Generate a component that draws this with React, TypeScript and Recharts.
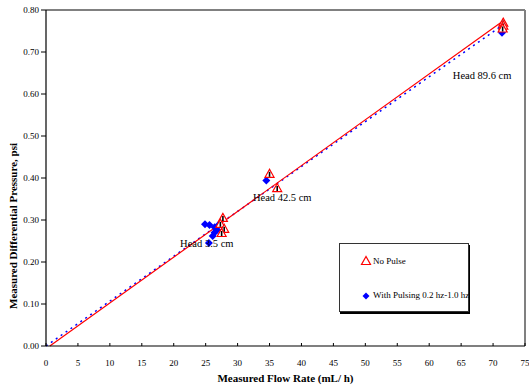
import React from 'react';
import {
  ComposedChart,
  Scatter,
  Line,
  XAxis,
  YAxis,
  ReferenceLine,
  ReferenceDot,
  Legend,
} from 'recharts';

const FONT = '"Liberation Serif", "Times New Roman", serif';

// flow rate (mL/h) vs differential pressure (psi)
const noPulseX = [27.7, 27.3, 27.9, 27.5, 35.0, 36.2, 71.6, 71.6, 71.5];
const noPulseY = [0.305, 0.291, 0.279, 0.269, 0.41, 0.376, 0.77, 0.763, 0.756];

const pulsingX = [24.9, 25.6, 26.4, 27.0, 26.8, 26.4, 26.1, 25.5, 34.5, 71.5, 71.5, 71.4];
const pulsingY = [0.29, 0.288, 0.283, 0.288, 0.277, 0.27, 0.262, 0.245, 0.394, 0.758, 0.75, 0.746];

// linear fits, end points
const noPulseFitX = [0.6, 71.5];
const noPulseFitY = [0, 0.773];
const pulsingFitX = [0, 71.5];
const pulsingFitY = [0, 0.764];

const xTicks = [0, 5, 10, 15, 20, 25, 30, 35, 40, 45, 50, 55, 60, 65, 70, 75];
const yTicks = [0, 0.1, 0.2, 0.3, 0.4, 0.5, 0.6, 0.7, 0.8];

const headLabels = [
  { text: 'Head 89.6 cm', x: 63.7, y: 0.645 },
  { text: 'Head 42.5 cm', x: 32.4, y: 0.355 },
  { text: 'Head 3.5 cm', x: 21.0, y: 0.245 },
];

const zip = (xs: number[], ys: number[]) => xs.map((x, i) => ({ x, y: ys[i] }));

const noPulse = zip(noPulseX, noPulseY);
const pulsing = zip(pulsingX, pulsingY);
const noPulseFit = zip(noPulseFitX, noPulseFitY);
const pulsingFit = zip(pulsingFitX, pulsingFitY);

const Triangle = (props: any) => {
  const { cx, cy } = props;
  if (cx == null || cy == null) return <g />;
  return (
    <g>
      <polygon
        points={`${cx},${cy - 4.5} ${cx - 4.5},${cy + 3.5} ${cx + 4.5},${cy + 3.5}`}
        fill="#fff"
        stroke="#ff0000"
        strokeWidth={1.2}
      />
      <line x1={cx} x2={cx} y1={cy - 2} y2={cy + 3} stroke="#000" strokeWidth={1.6} />
    </g>
  );
};

const Diamond = (props: any) => {
  const { cx, cy } = props;
  if (cx == null || cy == null) return <g />;
  return (
    <polygon
      points={`${cx},${cy - 4} ${cx + 4},${cy} ${cx},${cy + 4} ${cx - 4},${cy}`}
      fill="#0000ff"
    />
  );
};

const LegendBox = () => (
  <div
    style={{
      width: 130,
      height: 69,
      boxSizing: 'border-box',
      border: '1px solid #333',
      boxShadow: '1px 2px 0 #000',
      background: '#fff',
      fontFamily: FONT,
      fontSize: 9,
      color: '#000',
      position: 'relative',
    }}
  >
    <svg width={12} height={12} style={{ position: 'absolute', left: 20, top: 11 }}>
      <polygon points="6,1.5 1.5,9.5 10.5,9.5" fill="#fff" stroke="#ff0000" strokeWidth={1.2} />
    </svg>
    <span style={{ position: 'absolute', left: 33, top: 12 }}>No Pulse</span>
    <svg width={12} height={12} style={{ position: 'absolute', left: 20, top: 46 }}>
      <polygon points="6,2.5 9.5,6 6,9.5 2.5,6" fill="#0000ff" />
    </svg>
    <span style={{ position: 'absolute', left: 33, top: 46, whiteSpace: 'nowrap' }}>
      With Pulsing 0.2 hz-1.0 hz
    </span>
  </div>
);

const YTitle = () => (
  <text
    x={13}
    y={226}
    transform="rotate(-90 13 226)"
    textAnchor="middle"
    dominantBaseline="central"
    style={{ fontFamily: FONT, fontSize: 11, fontWeight: 'bold', fill: '#000' }}
  >
    Measured Differential Pressure, psi
  </text>
);

export default function App() {
  const tickStyle = { fontFamily: FONT, fontSize: 9, fill: '#000' };
  return (
    <div style={{ position: 'fixed', left: 0, top: 0, width: 529, height: 389, background: '#fff' }}>
      <ComposedChart width={529} height={389} margin={{ top: 10, right: 4, bottom: 0, left: 0 }}>
        <XAxis
          type="number"
          dataKey="x"
          domain={[0, 75]}
          ticks={xTicks}
          interval={0}
          height={43}
          tickSize={-3}
          tickMargin={17}
          tick={tickStyle}
          axisLine={{ stroke: '#000', strokeWidth: 1.2 }}
          tickLine={{ stroke: '#000' }}
          label={{
            value: 'Measured Flow Rate (mL/ h)',
            position: 'insideBottom',
            offset: 7,
            style: { fontFamily: FONT, fontSize: 11, fontWeight: 'bold', fill: '#000' },
          }}
        />
        <YAxis
          type="number"
          dataKey="y"
          domain={[0, 0.8]}
          ticks={yTicks}
          interval={0}
          width={46}
          tickSize={5}
          tickMargin={2}
          tick={tickStyle}
          tickFormatter={(v: number) => v.toFixed(2)}
          axisLine={{ stroke: '#000', strokeWidth: 1.2 }}
          tickLine={{ stroke: '#000' }}
          label={<YTitle />}
        />
        <ReferenceLine y={0.8} stroke="#808080" strokeWidth={2} />
        <ReferenceLine x={75} stroke="#808080" strokeWidth={2} />
        <Scatter name="With Pulsing 0.2 hz-1.0 hz" data={pulsing} shape={<Diamond />} isAnimationActive={false} />
        <Scatter name="No Pulse" data={noPulse} shape={<Triangle />} isAnimationActive={false} />
        <Line
          data={pulsingFit}
          dataKey="y"
          type="linear"
          stroke="#0000ff"
          strokeWidth={1.5}
          strokeDasharray="2 4"
          dot={false}
          activeDot={false}
          legendType="none"
          isAnimationActive={false}
        />
        <Line
          data={noPulseFit}
          dataKey="y"
          type="linear"
          stroke="#ff0000"
          strokeWidth={1.2}
          dot={false}
          activeDot={false}
          legendType="none"
          isAnimationActive={false}
        />
        {headLabels.map((h) => (
          <ReferenceDot
            key={h.text}
            x={h.x}
            y={h.y}
            r={0}
            fill="none"
            stroke="none"
            label={{
              value: h.text,
              position: 'right',
              offset: 0,
              style: { fontFamily: FONT, fontSize: 10.5, fill: '#000' },
            }}
          />
        ))}
        <Legend
          layout="horizontal"
          align="center"
          verticalAlign="middle"
          wrapperStyle={{ left: 339, top: 243, width: 131, height: 70 }}
          content={() => <LegendBox />}
        />
      </ComposedChart>
    </div>
  );
}
